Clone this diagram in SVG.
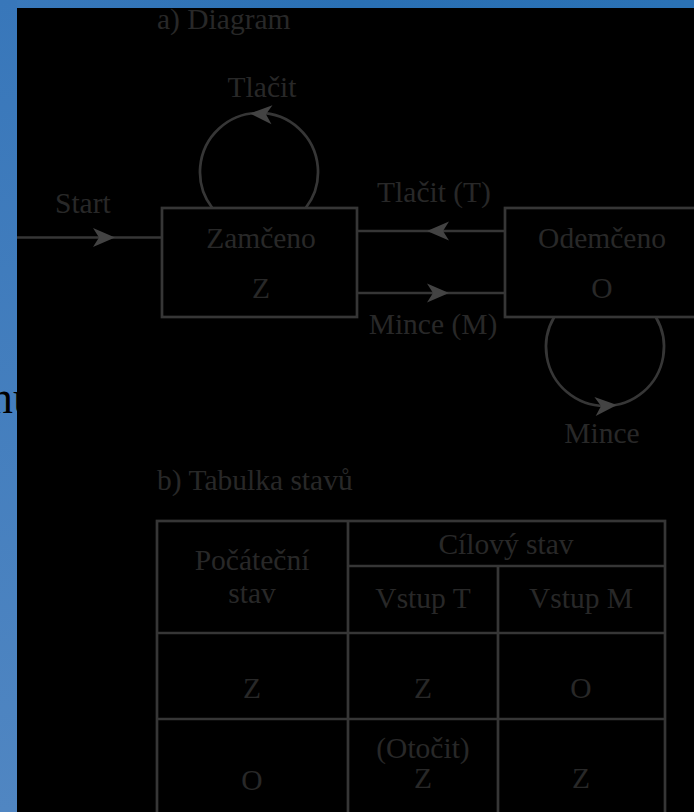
<svg xmlns="http://www.w3.org/2000/svg" width="694" height="812" viewBox="0 0 694 812">
<defs>
<linearGradient id="bg" x1="0" y1="0" x2="1" y2="0">
<stop offset="0" stop-color="#3a79bb"/>
<stop offset="0.5" stop-color="#2a70b4"/>
<stop offset="1" stop-color="#2b72b5"/>
</linearGradient>
<linearGradient id="strip" x1="0" y1="0" x2="0" y2="1">
<stop offset="0" stop-color="#3877ba"/>
<stop offset="1" stop-color="#5086c2"/>
</linearGradient>
<path id="ah" d="M0,0 L-22,-9.5 L-16,0 L-22,9.5 Z" fill="#434343"/>
</defs>
<style>
.t{font-family:"Liberation Serif","Times New Roman",serif;font-size:29.5px;fill:#282828}
.m{text-anchor:middle}
.ln{stroke:#363636;stroke-width:2.7;fill:none}
</style>
<rect x="0" y="0" width="694" height="812" fill="url(#bg)"/>
<rect x="0" y="0" width="17" height="812" fill="url(#strip)"/>
<text x="-10" y="413" style="font-family:'Liberation Serif',serif;font-size:46px;fill:#000">nu</text>
<rect x="17" y="8" width="677" height="804" fill="#000"/>

<text class="t" x="157" y="29">a) Diagram</text>

<g id="connectors">
<path class="ln" d="M17,237.5 H162"/>
<use href="#ah" transform="translate(115,237.5)"/>
<path class="ln" d="M357,231 H505"/>
<use href="#ah" transform="translate(427,231) rotate(180)"/>
<path class="ln" d="M357,293 H505"/>
<use href="#ah" transform="translate(449,293)"/>
<path class="ln" d="M212.3,208 A59,59 0 1 1 305.7,208"/>
<use href="#ah" transform="translate(250,113.5) rotate(183)"/>
<path class="ln" d="M554.2,317 A59,59 0 1 0 655.8,317"/>
<use href="#ah" transform="translate(617,405) rotate(-4)"/>
<text class="t m" x="262" y="97">Tlačit</text>
<text class="t" x="55" y="213">Start</text>
<text class="t m" x="434" y="202">Tlačit (T)</text>
<text class="t m" x="433" y="334">Mince (M)</text>
<text class="t m" x="602" y="443">Mince</text>
</g>

<g id="zamceno">
<rect class="ln" x="162" y="208" width="195" height="109"/>
<text class="t m" x="261" y="248">Zamčeno</text>
<text class="t m" x="261" y="298">Z</text>
</g>

<g id="odemceno">
<rect class="ln" x="505" y="208" width="195" height="109"/>
<text class="t m" x="602" y="248">Odemčeno</text>
<text class="t m" x="602" y="298">O</text>
</g>

<text class="t" x="157" y="490">b) Tabulka stavů</text>

<g id="table">
<rect class="ln" x="157" y="521" width="508" height="300"/>
<path class="ln" d="M348,521 V821 M498,566 V821 M348,566 H665 M157,633 H665 M157,719 H665"/>
<text class="t m" x="252" y="570">Počáteční</text>
<text class="t m" x="252" y="603">stav</text>
<text class="t m" x="506" y="554">Cílový stav</text>
<text class="t m" x="423" y="608">Vstup T</text>
<text class="t m" x="581" y="608">Vstup M</text>
<text class="t m" x="252" y="698">Z</text>
<text class="t m" x="423" y="698">Z</text>
<text class="t m" x="581" y="698">O</text>
<text class="t m" x="252" y="790">O</text>
<text class="t m" x="423" y="758">(Otočit)</text>
<text class="t m" x="423" y="788">Z</text>
<text class="t m" x="581" y="788">Z</text>
</g>
</svg>
